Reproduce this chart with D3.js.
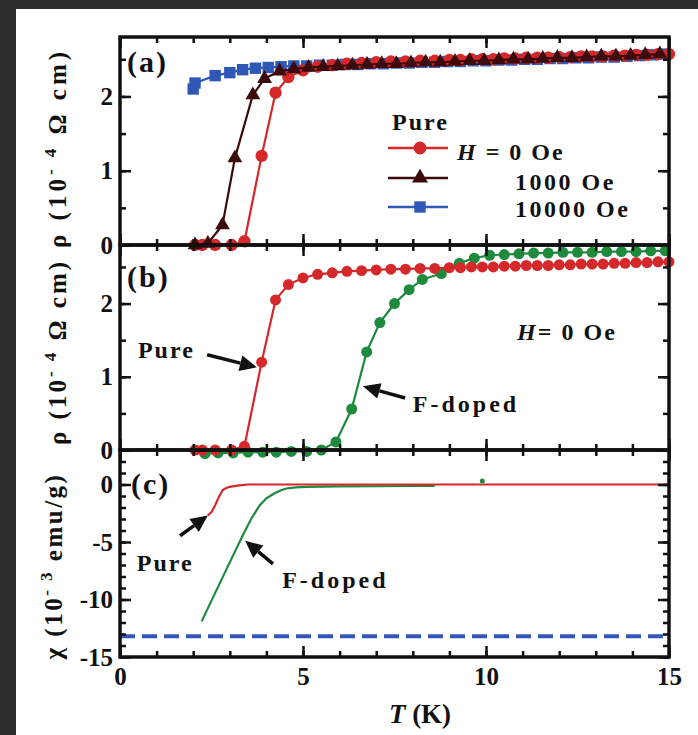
<!DOCTYPE html>
<html>
<head>
<meta charset="utf-8">
<script src="https://cdn.jsdelivr.net/npm/d3@7/dist/d3.min.js"></script>
<style>
  body { margin: 0; background: #fff; }
  text { font-family: "Liberation Serif", "Times New Roman", serif; font-weight: bold; fill: #111; }
</style>
</head>
<body>
<div id="chart"></div>
<script>
// ---- (a) pure sample, rho vs T in field (10^-4 ohm cm)
var tPure   = [2.05, 2.25, 2.6, 3.05, 3.4, 3.87, 4.25, 4.6, 5.0, 5.4, 5.8, 6.2, 6.6, 7.0, 7.4, 7.8, 8.2, 8.6, 9.0, 9.3,
               9.6, 9.9, 10.2, 10.5, 10.8, 11.1, 11.4, 11.7, 12.0, 12.3, 12.6, 12.9, 13.2, 13.5, 13.8, 14.1, 14.4, 14.7, 15.0];
var rhoPure = [0, 0, 0, 0, 0.05, 1.2, 2.05, 2.26, 2.35, 2.4, 2.42, 2.44, 2.45, 2.46, 2.47, 2.47, 2.48, 2.48, 2.49, 2.49,
               2.5, 2.5, 2.5, 2.51, 2.51, 2.52, 2.52, 2.52, 2.53, 2.53, 2.54, 2.54, 2.54, 2.55, 2.55, 2.56, 2.56, 2.57, 2.57];

var t1000   = [2.05, 2.4, 2.8, 3.14, 3.63, 3.95, 4.36, 4.75, 5.15, 5.55, 5.95, 6.35, 6.75, 7.15, 7.55, 7.95, 8.35,
               8.75, 9.15, 9.55, 9.95, 10.35, 10.75, 11.15, 11.55, 11.95, 12.35, 12.75, 13.15, 13.55, 13.95, 14.35, 14.75];
var rho1000 = [0, 0.02, 0.27, 1.17, 2.02, 2.24, 2.34, 2.37, 2.39, 2.4, 2.41, 2.42, 2.43, 2.44, 2.44, 2.45, 2.46,
               2.46, 2.47, 2.48, 2.48, 2.49, 2.5, 2.5, 2.51, 2.52, 2.52, 2.53, 2.54, 2.54, 2.55, 2.56, 2.57];

var t10000   = [2.0, 2.05, 2.6, 3.0, 3.35, 3.7, 4.05, 4.4, 4.75, 5.1, 5.45, 5.8, 6.15, 6.5, 6.85, 7.2, 7.55, 7.9, 8.25,
                8.6, 8.95, 9.3, 9.65, 10.0, 10.35, 10.7, 11.05, 11.4, 11.75, 12.1, 12.45, 12.8, 13.15, 13.5, 13.85, 14.2, 14.55, 14.9];
var rho10000 = [2.1, 2.18, 2.28, 2.32, 2.36, 2.38, 2.39, 2.4, 2.41, 2.41, 2.42, 2.42, 2.43, 2.43, 2.44, 2.44, 2.45, 2.45, 2.46,
                2.46, 2.47, 2.47, 2.48, 2.48, 2.49, 2.49, 2.5, 2.5, 2.51, 2.51, 2.52, 2.52, 2.53, 2.53, 2.54, 2.55, 2.56, 2.57];

// ---- (b) F-doped, H = 0
var tDoped   = [2.32, 2.68, 3.09, 3.5, 3.9, 4.27, 4.68, 5.1, 5.5, 5.9, 6.33, 6.74, 7.1, 7.5, 7.9, 8.26, 8.78, 9.27,
                9.68, 10.1, 10.5, 10.9, 11.3, 11.7, 12.1, 12.5, 12.9, 13.3, 13.7, 14.1, 14.5, 14.9];
var rhoDoped = [-0.05, -0.04, -0.04, -0.03, -0.03, -0.03, -0.02, -0.02, 0, 0.11, 0.56, 1.34, 1.74, 2.0, 2.19, 2.33, 2.41, 2.55,
                2.62, 2.66, 2.67, 2.68, 2.69, 2.69, 2.7, 2.7, 2.7, 2.71, 2.71, 2.71, 2.72, 2.72];

// ---- (c) susceptibility (10^-3 emu/g)
var tChiPure = [2.4, 2.5, 2.6, 2.7, 2.8, 2.9, 3.0, 3.2, 3.5, 4, 5, 6, 7, 8, 9, 10, 11, 12, 13, 14, 15];
var chiPure  = [-2.7, -2.4, -1.8, -1.1, -0.5, -0.3, -0.2, -0.1, 0, 0, 0, 0, 0, 0, 0, 0, 0, 0, 0, 0, 0];
var tChiDoped = [2.23, 2.5, 2.8, 3.1, 3.36, 3.6, 3.82, 4.0, 4.2, 4.4, 4.55, 4.8, 5.1, 6, 7, 8, 8.6];
var chiDoped  = [-11.9, -10.1, -8.1, -6.1, -4.4, -2.9, -1.8, -1.2, -0.8, -0.5, -0.35, -0.25, -0.2, -0.17, -0.15, -0.13, -0.12];
var chiFullShield = -13.2;

var xTicks = [0, 5, 10, 15];
var rhoTicks = [0, 1, 2];
var chiTicks = [0, -5, -10, -15];

var red = '#d4282a', maroon = '#3d0b0b', blue = '#2f57b6', green = '#1e8a3e';

var width = 698, height = 735;
var left = 120, right = 669;

var svg = d3.select('#chart').append('svg')
    .attr('width', width)
    .attr('height', height);

svg.append('rect').attr('width', width).attr('height', height).attr('fill', '#fff');
svg.append('rect').attr('width', width).attr('height', 9).attr('fill', '#2e2e2e');
svg.append('rect').attr('width', 16).attr('height', height).attr('fill', '#2e2e2e');

var x = d3.scaleLinear().domain([0, 15]).range([left, right]);
var yA = d3.scaleLinear().domain([0, 2.8]).range([245, 37]);
var yB = d3.scaleLinear().domain([0, 2.8]).range([450, 245]);
var yC = d3.scaleLinear().domain([-15, 3]).range([657, 450]);

// plain hyphen for negatives, like the original figure
var fmt = function(d) { return String(d); };

function zip(xs, ys) { return xs.map(function(v, i) { return [v, ys[i]]; }); }

function frame(y, yMinor, yMajor, showX) {
    var g = svg.append('g');
    var y0 = y.range()[0], y1 = y.range()[1];
    var axes = [
        [d3.axisBottom(x).tickValues(d3.range(0, 16)).tickSize(-6), y0, 0],
        [d3.axisTop(x).tickValues(d3.range(0, 16)).tickSize(-6), y1, 0],
        [d3.axisBottom(x).tickValues(xTicks).tickSize(-11), y0, 1],
        [d3.axisTop(x).tickValues(xTicks).tickSize(-11), y1, 0]
    ];
    axes.forEach(function(a) {
        var ax = g.append('g').attr('transform', 'translate(0,' + a[1] + ')')
            .call(a[0].tickPadding(10).tickFormat(a[2] && showX ? fmt : ''));
        ax.select('.domain').remove();
    });
    var yaxes = [
        [d3.axisLeft(y).tickValues(yMinor).tickSize(-6), left, 0],
        [d3.axisRight(y).tickValues(yMinor).tickSize(-6), right, 0],
        [d3.axisLeft(y).tickValues(yMajor).tickSize(-11), left, 1],
        [d3.axisRight(y).tickValues(yMajor).tickSize(-11), right, 0]
    ];
    yaxes.forEach(function(a) {
        var ax = g.append('g').attr('transform', 'translate(' + a[1] + ',0)')
            .call(a[0].tickPadding(7).tickFormat(a[2] ? fmt : ''));
        ax.select('.domain').remove();
    });
    g.selectAll('.tick line').attr('stroke', '#111').attr('stroke-width', 2.5);
    g.selectAll('.tick text').attr('font-size', 25).attr('fill', '#111')
        .style('font-family', '"Liberation Serif", serif').style('font-weight', 'bold');
    g.append('rect').attr('x', left).attr('y', y1).attr('width', right - left).attr('height', y0 - y1)
        .attr('fill', 'none').attr('stroke', '#111').attr('stroke-width', 3.5);
}

function series(y, xs, ys, color, marker, size) {
    var data = zip(xs, ys);
    var line = d3.line().x(function(d) { return x(d[0]); }).y(function(d) { return y(d[1]); });
    svg.append('path').datum(data).attr('d', line)
        .attr('fill', 'none').attr('stroke', color).attr('stroke-width', 2.2);
    if (!marker) return;
    svg.append('g').selectAll('path').data(data).enter().append('path')
        .attr('transform', function(d) { return 'translate(' + x(d[0]) + ',' + y(d[1]) + ')'; })
        .attr('d', d3.symbol().type(marker).size(size))
        .attr('fill', color);
}

function arrow(y, from, to) {
    var x0 = x(from[0]), y0 = y(from[1]), x1 = x(to[0]), y1 = y(to[1]);
    var a = Math.atan2(y1 - y0, x1 - x0), L = 17, W = 8;
    var bx = x1 - L * Math.cos(a), by = y1 - L * Math.sin(a);
    svg.append('line').attr('x1', x0).attr('y1', y0).attr('x2', bx).attr('y2', by)
        .attr('stroke', '#111').attr('stroke-width', 3.5);
    svg.append('path')
        .attr('d', 'M' + x1 + ',' + y1 +
            'L' + (bx + W * Math.sin(a)) + ',' + (by - W * Math.cos(a)) +
            'L' + (bx - W * Math.sin(a)) + ',' + (by + W * Math.cos(a)) + 'Z')
        .attr('fill', '#111');
}

function label(px, py, str, size, spacing) {
    return svg.append('text').attr('x', px).attr('y', py)
        .attr('font-size', size).attr('letter-spacing', spacing).text(str);
}

// ----- panel (a)
series(yA, t10000, rho10000, blue, d3.symbolSquare, 130);
series(yA, tPure, rhoPure, red, d3.symbolCircle, 120);
series(yA, t1000, rho1000, maroon, d3.symbolTriangle, 95);
frame(yA, d3.range(0, 2.8, 0.5), rhoTicks, false);

// ----- panel (b)
series(yB, tDoped, rhoDoped, green, d3.symbolCircle, 95);
series(yB, tPure, rhoPure, red, d3.symbolCircle, 95);
frame(yB, d3.range(0, 2.8, 0.5), rhoTicks, false);

// ----- panel (c)
svg.append('line').attr('x1', x(0)).attr('x2', x(15)).attr('y1', yC(chiFullShield)).attr('y2', yC(chiFullShield))
    .attr('stroke', '#3457b8').attr('stroke-width', 4).attr('stroke-dasharray', '15,7');
series(yC, tChiDoped, chiDoped, green, null);
series(yC, tChiPure, chiPure, red, null);
svg.append('circle').attr('cx', x(9.9)).attr('cy', yC(0.3)).attr('r', 2.5).attr('fill', green);
frame(yC, d3.range(-15, 3.1, 1), chiTicks, true);

// ----- panel letters
label(127, 72, '(a)', 30, 2);
label(127, 287, '(b)', 30, 2);
label(131, 494, '(c)', 30, 2);

// ----- legend (a)
label(392, 130, 'Pure', 24, 2);
var legend = [[red, d3.symbolCircle, 130, 148], [maroon, d3.symbolTriangle, 110, 178], [blue, d3.symbolSquare, 130, 207]];
legend.forEach(function(l) {
    svg.append('line').attr('x1', 388).attr('x2', 448).attr('y1', l[3]).attr('y2', l[3])
        .attr('stroke', l[0]).attr('stroke-width', 2.5);
    svg.append('path').attr('transform', 'translate(420,' + l[3] + ')')
        .attr('d', d3.symbol().type(l[1]).size(l[2])).attr('fill', l[0]);
});
var h = label(457, 160, '', 24, 2);
h.append('tspan').style('font-style', 'italic').text('H');
h.append('tspan').text(' =  0 Oe');
label(515, 190, '1000 Oe', 24, 2.5);
label(515, 217, '10000 Oe', 24, 2.5);

// ----- annotations (b)
label(x(0.49), yB(1.26), 'Pure', 24, 2);
arrow(yB, [2.38, 1.30], [3.74, 1.13]);
label(x(8.0), yB(0.52), 'F-doped', 24, 3);
arrow(yB, [7.79, 0.71], [6.64, 0.87]);
var h0 = label(x(10.85), yB(1.5), '', 24, 2);
h0.append('tspan').style('font-style', 'italic').text('H');
h0.append('tspan').text('= 0 Oe');

// ----- annotations (c)
label(x(0.46), yC(-7.5), 'Pure', 24, 2);
arrow(yC, [1.64, -4.46], [2.4, -2.7]);
label(x(4.43), yC(-9.0), 'F-doped', 24, 3);
arrow(yC, [4.18, -6.9], [3.42, -4.9]);

// ----- axis titles
function ylabel(px, py, pre, sup, post, spacing) {
    var t = svg.append('text').attr('transform', 'translate(' + px + ',' + py + ') rotate(-90)')
        .attr('text-anchor', 'middle').attr('font-size', 25).attr('letter-spacing', spacing);
    t.append('tspan').text(pre);
    t.append('tspan').attr('font-size', 17).attr('dy', -10).text(sup);
    t.append('tspan').attr('dy', 10).text(post);
}
ylabel(66, 148, 'ρ (10', '- 4', ' Ω cm)', 4);
ylabel(66, 352, 'ρ (10', '- 4', ' Ω cm)', 3);
ylabel(62, 566, 'χ (10', '- 3', ' emu/g)', 2.5);

var tk = svg.append('text').attr('x', 420).attr('y', 723).attr('text-anchor', 'middle').attr('font-size', 27);
tk.append('tspan').style('font-style', 'italic').text('T');
tk.append('tspan').text(' (K)');
</script>
</body>
</html>
